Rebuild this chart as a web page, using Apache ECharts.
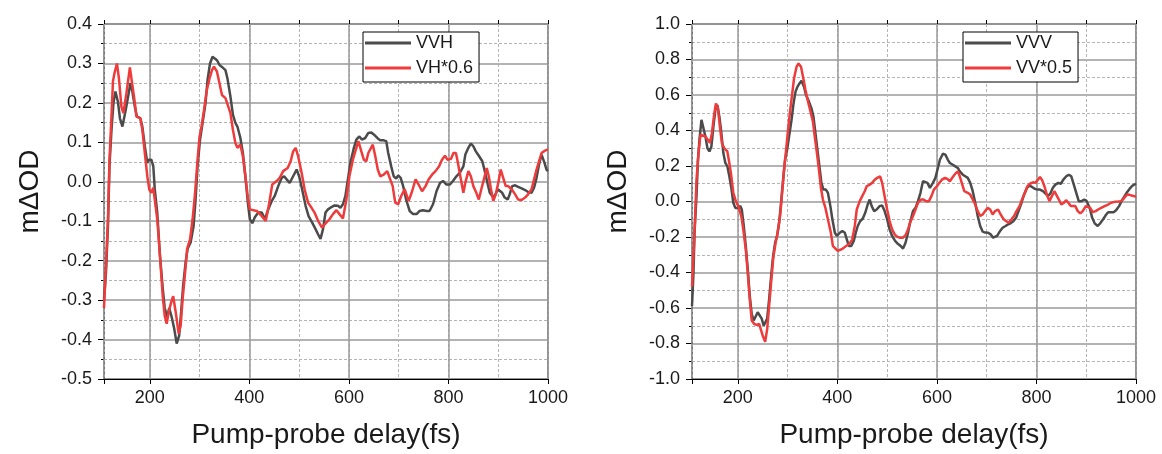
<!DOCTYPE html>
<html>
<head>
<meta charset="utf-8">
<script src="https://cdn.jsdelivr.net/npm/echarts@6/dist/echarts.min.js"></script>
<style>
html,body{margin:0;padding:0;background:#fff;}
#main{width:1162px;height:454px;}
</style>
</head>
<body>
<div id="main"></div>
<script>
var myChart = echarts.init(document.getElementById('main'));

// [delay(fs), mΔOD]
var vvh = [[108,-0.30],[112,-0.23],[116,-0.11],[119,0.04],[123,0.13],[127,0.20],[131,0.229],[136,0.203],[140,0.161],[145,0.14],[151,0.178],[157,0.22],[161,0.25],[165,0.229],[170,0.19],[174,0.166],[181,0.161],[185,0.14],[190,0.09],[195,0.048],[198,0.056],[203,0.056],[207,0.04],[210,-0.019],[215,-0.078],[220,-0.18],[226,-0.27],[230,-0.32],[235,-0.343],[239,-0.32],[244,-0.343],[249,-0.372],[254,-0.41],[259,-0.39],[263,-0.33],[267,-0.263],[272,-0.204],[276,-0.17],[282,-0.154],[288,-0.112],[292,-0.045],[296,0.04],[301,0.107],[306,0.149],[312,0.2],[316,0.258],[321,0.3],[326,0.317],[329,0.321],[335,0.308],[340,0.296],[346,0.29],[352,0.283],[356,0.262],[362,0.216],[367,0.17],[372,0.149],[376,0.14],[382,0.111],[387,0.073],[392,0.014],[397,-0.053],[401,-0.095],[406,-0.105],[411,-0.09],[418,-0.078],[425,-0.078],[431,-0.095],[438,-0.07],[445,-0.049],[451,-0.036],[458,-0.011],[465,0.01],[470,0.014],[475,0.006],[481,-0.003],[488,0.014],[495,0.031],[500,0.014],[506,-0.019],[513,-0.061],[519,-0.087],[526,-0.103],[533,-0.12],[538,-0.133],[543,-0.145],[548,-0.12],[553,-0.078],[558,-0.07],[565,-0.064],[571,-0.06],[578,-0.061],[583,-0.066],[588,-0.057],[593,-0.036],[598,0.006],[603,0.048],[610,0.086],[615,0.107],[621,0.115],[626,0.107],[633,0.111],[639,0.124],[645,0.125],[650,0.12],[657,0.111],[663,0.105],[670,0.105],[675,0.103],[679,0.073],[685,0.039],[690,0.014],[695,0.008],[699,0.016],[704,0.01],[709,-0.011],[715,-0.045],[722,-0.074],[729,-0.082],[736,-0.082],[742,-0.074],[749,-0.072],[756,-0.074],[762,-0.074],[769,-0.057],[776,-0.024],[783,-0.003],[789,0.002],[796,-0.007],[803,-0.007],[809,0.002],[816,0.014],[823,0.023],[830,0.039],[834,0.069],[840,0.086],[845,0.097],[850,0.09],[855,0.077],[861,0.066],[868,0.052],[873,0.027],[879,-0.007],[883,-0.028],[888,-0.036],[893,-0.036],[899,-0.019],[903,-0.019],[908,-0.028],[913,-0.04],[919,-0.045],[923,-0.032],[928,-0.011],[934,-0.009],[940,-0.013],[947,-0.017],[954,-0.021],[960,-0.026],[967,-0.028],[972,-0.015],[977,0.01],[982,0.044],[987,0.069],[993,0.048],[997,0.031],[1000,0.027]];

var vh06 = [[108,-0.32],[112,-0.21],[116,-0.095],[119,0.056],[123,0.166],[126,0.254],[129,0.275],[134,0.30],[138,0.262],[143,0.19],[147,0.174],[153,0.224],[160,0.29],[164,0.254],[170,0.2],[173,0.166],[181,0.161],[185,0.132],[190,0.073],[195,0.014],[199,-0.02],[203,-0.028],[207,-0.015],[210,-0.045],[215,-0.095],[220,-0.18],[226,-0.29],[230,-0.34],[234,-0.36],[238,-0.33],[243,-0.305],[247,-0.29],[252,-0.33],[258,-0.385],[262,-0.365],[266,-0.297],[271,-0.23],[275,-0.17],[281,-0.145],[286,-0.095],[291,-0.028],[296,0.056],[300,0.115],[304,0.14],[309,0.182],[314,0.229],[320,0.262],[325,0.283],[329,0.292],[335,0.279],[340,0.25],[345,0.22],[352,0.212],[356,0.212],[362,0.174],[367,0.132],[372,0.098],[376,0.086],[382,0.094],[387,0.065],[392,0.014],[397,-0.04],[401,-0.07],[405,-0.07],[415,-0.074],[425,-0.087],[433,-0.099],[439,-0.061],[446,-0.007],[455,0.002],[461,0.01],[468,0.027],[477,0.035],[483,0.052],[488,0.077],[493,0.086],[498,0.065],[505,0.023],[511,-0.019],[518,-0.053],[525,-0.066],[531,-0.078],[538,-0.099],[546,-0.116],[555,-0.103],[561,-0.095],[568,-0.082],[575,-0.072],[581,-0.082],[588,-0.093],[595,-0.045],[601,0.014],[608,0.056],[615,0.086],[619,0.103],[625,0.077],[630,0.056],[635,0.052],[639,0.073],[648,0.094],[653,0.065],[658,0.031],[663,0.014],[670,0.018],[677,0.027],[681,0.023],[688,-0.011],[693,-0.053],[699,-0.057],[705,-0.036],[712,-0.019],[720,-0.049],[727,-0.024],[734,0.006],[740,-0.007],[747,-0.024],[754,-0.011],[760,0.006],[767,0.018],[774,0.027],[781,0.039],[787,0.056],[793,0.066],[798,0.056],[805,0.058],[810,0.073],[815,0.073],[819,0.048],[825,0.006],[830,-0.028],[834,-0.002],[840,0.027],[845,0.014],[850,-0.011],[856,-0.028],[861,-0.045],[866,-0.019],[872,0.01],[877,0.035],[881,0.014],[885,-0.015],[890,-0.049],[895,-0.032],[900,-0.003],[905,0.031],[910,0.01],[915,-0.011],[920,-0.011],[927,-0.019],[934,-0.032],[940,-0.045],[947,-0.046],[954,-0.04],[960,-0.032],[967,-0.019],[972,0.006],[977,0.031],[983,0.056],[987,0.073],[994,0.079],[1000,0.082]];

var vvv = [[108,-0.59],[111,-0.4],[113,-0.18],[117,0.03],[120,0.235],[123,0.348],[127,0.46],[131,0.45],[135,0.366],[139,0.3],[143,0.282],[147,0.31],[151,0.422],[155,0.516],[159,0.544],[163,0.478],[167,0.385],[171,0.273],[175,0.217],[179,0.198],[183,0.142],[187,0.077],[191,-0.007],[195,-0.036],[200,-0.036],[205,-0.026],[208,-0.045],[212,-0.138],[216,-0.25],[220,-0.381],[224,-0.53],[228,-0.634],[232,-0.67],[236,-0.66],[240,-0.624],[244,-0.634],[248,-0.66],[252,-0.7],[255,-0.708],[259,-0.66],[263,-0.55],[267,-0.42],[271,-0.307],[275,-0.232],[279,-0.194],[283,-0.12],[287,-0.007],[291,0.123],[295,0.235],[299,0.29],[303,0.366],[308,0.46],[312,0.553],[316,0.619],[320,0.647],[324,0.665],[328,0.68],[333,0.647],[337,0.6],[343,0.563],[348,0.525],[352,0.478],[356,0.385],[360,0.29],[364,0.198],[368,0.105],[372,0.067],[377,0.067],[381,0.049],[386,-0.026],[390,-0.1],[395,-0.176],[399,-0.194],[405,-0.176],[410,-0.166],[415,-0.176],[419,-0.213],[423,-0.25],[428,-0.25],[433,-0.222],[437,-0.176],[441,-0.138],[446,-0.11],[451,-0.097],[456,-0.064],[461,-0.017],[465,0.011],[469,-0.026],[474,-0.054],[479,-0.045],[485,-0.026],[490,-0.022],[495,-0.054],[500,-0.1],[505,-0.157],[510,-0.194],[516,-0.222],[522,-0.24],[527,-0.25],[532,-0.265],[537,-0.232],[542,-0.176],[546,-0.12],[552,-0.054],[557,-0.036],[562,0.002],[567,0.049],[572,0.114],[576,0.123],[581,0.105],[586,0.077],[592,0.105],[597,0.133],[602,0.189],[606,0.235],[612,0.269],[617,0.264],[622,0.235],[626,0.217],[632,0.207],[637,0.198],[642,0.189],[646,0.17],[652,0.151],[657,0.142],[662,0.133],[667,0.105],[672,0.058],[677,-0.007],[682,-0.082],[687,-0.138],[692,-0.17],[697,-0.175],[703,-0.176],[708,-0.185],[713,-0.204],[717,-0.213],[721,-0.194],[727,-0.166],[732,-0.148],[738,-0.138],[743,-0.129],[748,-0.123],[754,-0.11],[759,-0.092],[764,-0.054],[770,-0.007],[775,0.039],[781,0.077],[786,0.09],[791,0.082],[797,0.071],[802,0.067],[807,0.067],[813,0.058],[818,0.045],[823,0.03],[828,0.045],[833,0.077],[838,0.095],[844,0.105],[849,0.1],[854,0.123],[860,0.142],[865,0.151],[870,0.142],[874,0.105],[880,0.049],[885,0.002],[891,0.002],[896,0.011],[901,0.002],[907,-0.036],[912,-0.092],[917,-0.123],[923,-0.138],[928,-0.123],[934,-0.1],[939,-0.078],[944,-0.06],[950,-0.06],[955,-0.06],[960,-0.049],[966,-0.026],[971,0.002],[977,0.03],[982,0.052],[987,0.071],[993,0.09],[1000,0.1]];

var vv05 = [[108,-0.48],[110,-0.47],[113,-0.18],[117,0.12],[121,0.27],[125,0.376],[129,0.385],[135,0.366],[140,0.348],[144,0.33],[148,0.385],[152,0.48],[156,0.553],[160,0.525],[164,0.422],[168,0.33],[173,0.3],[179,0.282],[183,0.217],[187,0.142],[191,0.049],[196,0.002],[201,-0.026],[207,-0.082],[211,-0.157],[216,-0.27],[220,-0.4],[224,-0.55],[228,-0.67],[233,-0.69],[238,-0.695],[243,-0.69],[247,-0.727],[251,-0.764],[255,-0.79],[259,-0.72],[263,-0.587],[267,-0.456],[271,-0.325],[276,-0.232],[280,-0.176],[285,-0.082],[289,0.049],[293,0.18],[297,0.29],[301,0.404],[305,0.507],[309,0.6],[313,0.693],[318,0.759],[322,0.778],[327,0.759],[331,0.703],[336,0.628],[341,0.563],[346,0.507],[351,0.45],[355,0.357],[359,0.273],[363,0.18],[367,0.077],[371,0.011],[376,-0.036],[381,-0.1],[387,-0.176],[391,-0.25],[396,-0.265],[401,-0.278],[405,-0.282],[411,-0.265],[418,-0.25],[425,-0.235],[430,-0.213],[435,-0.138],[439,-0.045],[445,0.002],[450,0.03],[455,0.058],[459,0.086],[465,0.095],[470,0.105],[475,0.123],[480,0.133],[486,0.142],[490,0.105],[495,0.03],[500,-0.045],[505,-0.11],[510,-0.157],[515,-0.185],[520,-0.198],[525,-0.204],[532,-0.204],[537,-0.19],[542,-0.157],[546,-0.12],[552,-0.082],[557,-0.045],[562,-0.007],[568,0.011],[573,0.011],[578,0.002],[584,0.002],[589,0.03],[594,0.067],[600,0.086],[605,0.105],[610,0.123],[616,0.133],[621,0.127],[626,0.114],[632,0.138],[637,0.157],[642,0.17],[646,0.142],[651,0.095],[655,0.058],[662,0.049],[667,0.039],[672,0.011],[677,-0.017],[682,-0.054],[687,-0.082],[692,-0.073],[697,-0.054],[702,-0.036],[707,-0.045],[712,-0.073],[717,-0.054],[723,-0.045],[728,-0.073],[734,-0.1],[739,-0.11],[744,-0.12],[750,-0.1],[755,-0.082],[760,-0.054],[766,-0.026],[771,0.011],[777,0.049],[782,0.086],[787,0.1],[793,0.108],[798,0.105],[803,0.123],[807,0.138],[811,0.123],[816,0.086],[821,0.039],[826,0.002],[831,0.03],[836,0.058],[840,0.049],[845,0.011],[850,-0.017],[855,-0.007],[860,0.007],[864,-0.007],[869,-0.026],[873,-0.017],[878,-0.026],[883,-0.054],[888,-0.067],[893,-0.054],[899,-0.026],[903,-0.017],[908,-0.036],[913,-0.06],[919,-0.054],[924,-0.045],[930,-0.036],[937,-0.026],[944,-0.017],[950,-0.007],[957,-0.002],[964,0],[970,0.002],[975,0.015],[981,0.036],[986,0.039],[991,0.034],[997,0.03],[1000,0.026]];

var xMin = 108, xMax = 1000;
var fontFam = 'Liberation Sans, Arial, sans-serif';
var darkColor = '#4b4b4b';
var redColor = '#ee3b3b';

// main x axis: labels + solid grid every 200
function xMain(g){
    return {
        gridIndex: g, type: 'value', min: xMin, max: xMax, splitNumber: 5, z: 3,
        name: 'Pump-probe delay(fs)', nameLocation: 'middle', nameGap: 42,
        nameTextStyle: {fontSize: 28, color: '#1a1a1a', fontFamily: fontFam},
        axisLine: {onZero: false, lineStyle: {color: '#000', width: 1}},
        axisTick: {show: true, length: 5, lineStyle: {color: '#000'}},
        axisLabel: {fontSize: 18, color: '#1a1a1a', fontFamily: fontFam, margin: 10,
            formatter: function(v){ return v % 200 === 0 ? String(v) : ''; }},
        splitLine: {show: true, lineStyle: {color: '#9a9a9a', width: 1.5}}
    };
}
// second x axis only for the dashed lines at every 100
function xMinor(g){
    return {
        gridIndex: g, type: 'value', min: xMin, max: xMax, splitNumber: 9, z: 1,
        axisLine: {show: false, onZero: false},
        axisTick: {show: true, length: 4, lineStyle: {color: '#000'}},
        axisLabel: {show: false},
        splitLine: {show: true, lineStyle: {color: '#b4b4b4', width: 1, type: [3, 2]}}
    };
}
function yAxis(g, mn, mx, step){
    return {
        gridIndex: g, type: 'value', min: mn, max: mx, interval: step,
        name: 'm\u0394OD', nameLocation: 'middle', nameGap: 60,
        nameTextStyle: {fontSize: 28, color: '#1a1a1a', fontFamily: fontFam, padding: [0, 0, 0, 20]},
        axisLine: {show: true, onZero: false, lineStyle: {color: '#000', width: 1}},
        axisTick: {show: true, length: 6, lineStyle: {color: '#000'}},
        minorTick: {show: true, splitNumber: 2, length: 3, lineStyle: {color: '#000'}},
        axisLabel: {fontSize: 18, color: '#1a1a1a', fontFamily: fontFam, margin: 12,
            formatter: function(v){ return v.toFixed(1); }},
        splitLine: {show: true, lineStyle: {color: '#9a9a9a', width: 1.5}},
        minorSplitLine: {show: true, lineStyle: {color: '#b4b4b4', width: 1, type: [3, 2]}}
    };
}
function line(name, data, color, xi, yi){
    return {
        name: name, type: 'line', xAxisIndex: xi, yAxisIndex: yi,
        symbol: 'none', smooth: false, data: data,
        lineStyle: {color: color, width: 2.5}, itemStyle: {color: color}
    };
}
function legend(names, left){
    return {
        data: names, orient: 'vertical', left: left, top: 32,
        icon: 'rect', itemWidth: 46, itemHeight: 3, itemGap: 7,
        padding: [2, 6, 5, 2],
        backgroundColor: '#fff', borderColor: '#000', borderWidth: 1,
        textStyle: {fontSize: 18, color: '#1a1a1a', fontFamily: fontFam}
    };
}

var option = {
    animation: false,
    backgroundColor: '#fff',
    grid: [
        {left: 104, top: 24, width: 444, height: 357, show: true, borderColor: '#000', borderWidth: 1, backgroundColor: 'transparent'},
        {left: 692, top: 24, width: 444, height: 357, show: true, borderColor: '#000', borderWidth: 1, backgroundColor: 'transparent'}
    ],
    legend: [legend(['VVH', 'VH*0.6'], 363), legend(['VVV', 'VV*0.5'], 963)],
    xAxis: [xMain(0), xMinor(0), xMain(1), xMinor(1)],
    yAxis: [yAxis(0, -0.5, 0.4, 0.1), yAxis(1, -1, 1, 0.2)],
    series: [
        line('VVH', vvh, darkColor, 0, 0),
        line('VH*0.6', vh06, redColor, 0, 0),
        line('VVV', vvv, darkColor, 2, 1),
        line('VV*0.5', vv05, redColor, 2, 1)
    ]
};
myChart.setOption(option);
</script>
</body>
</html>
